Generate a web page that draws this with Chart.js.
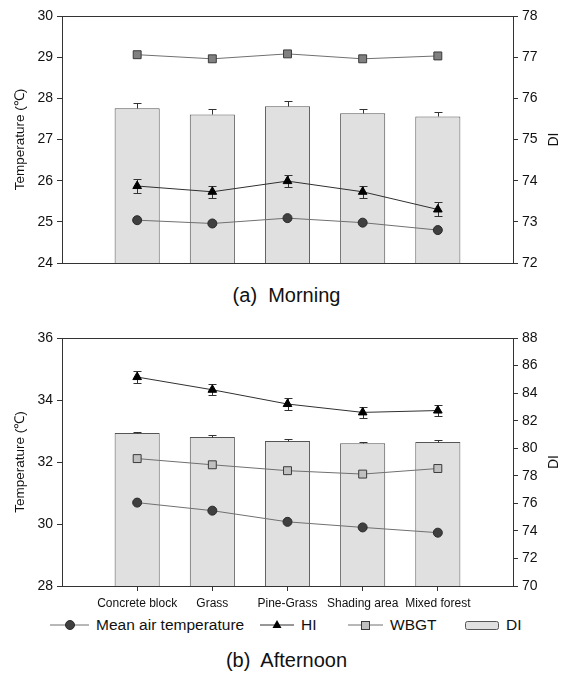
<!DOCTYPE html>
<html>
<head>
<meta charset="utf-8">
<script src="https://cdn.jsdelivr.net/npm/chart.js@4.4.0/dist/chart.umd.min.js"></script>
<style>
body { margin:0; background:#fff; width:573px; height:673px; position:relative; overflow:hidden;
       font-family:'Liberation Sans', Arial, sans-serif; color:#111; }
canvas { position:absolute; left:0; }
.cap { position:absolute; left:0; width:573px; text-align:center; font-size:20px; white-space:pre; line-height:24px; }
.leg { position:absolute; top:615px; height:20px; display:flex; align-items:center; font-size:15.5px; white-space:nowrap; }
.leg svg { margin-right:7px; }
</style>
</head>
<body>
<canvas id="am" width="573" height="280" style="top:0"></canvas>
<div class="cap" style="top:283px">(a)  Morning</div>
<canvas id="pm" width="573" height="305" style="top:310px"></canvas>
<div id="legend"></div>
<div class="cap" style="top:648px">(b)  Afternoon</div>
<script>
const categories = ['Concrete block', 'Grass', 'Pine-Grass', 'Shading area', 'Mixed forest'];
const seriesNames = ['Mean air temperature', 'HI', 'WBGT', 'DI'];
const tempTitle = 'Temperature (\u2103)';
const diTitle = 'DI';

// (a) Morning
const airAM   = [25.04, 24.96, 25.09, 24.98, 24.80];
const hiAM    = [25.87, 25.73, 25.99, 25.73, 25.30];
const hiErrAM = [0.16, 0.15, 0.15, 0.15, 0.17];
const wbgtAM  = [29.06, 28.96, 29.08, 28.96, 29.03];
const diAM    = [75.76, 75.61, 75.81, 75.64, 75.56];
const diErrAM = [0.12, 0.12, 0.13, 0.10, 0.12];

// (b) Afternoon
const airPM   = [30.69, 30.43, 30.07, 29.89, 29.72];
const hiPM    = [34.74, 34.33, 33.87, 33.60, 33.66];
const hiErrPM = [0.19, 0.18, 0.18, 0.17, 0.18];
const wbgtPM  = [32.11, 31.91, 31.72, 31.61, 31.79];
const diPM    = [81.11, 80.82, 80.53, 80.36, 80.46];
const diErrPM = [0.10, 0.14, 0.16, 0.12, 0.11];

Chart.defaults.font.family = "'Liberation Sans', Arial, sans-serif";
Chart.defaults.color = '#111';

// empty slot on each side so the five sites sit at 1/6 .. 5/6 of the width
const labels = ['', ...categories, ''];
const pad = a => [null, ...a, null];

function drawErr(chart, i, type) {
	const ds = chart.data.datasets[i];
	if (!ds.errors || ds.type !== type) return;
	const meta = chart.getDatasetMeta(i);
	const scale = chart.scales[meta.yAxisID];
	const ctx = chart.ctx;
	ctx.save();
	ctx.strokeStyle = '#333';
	ctx.lineWidth = 1;
	meta.data.forEach((el, j) => {
		const v = ds.data[j], e = ds.errors[j];
		if (v == null || e == null) return;
		const x = Math.round(el.x) + 0.5;
		const top = Math.round(scale.getPixelForValue(v + e)) + 0.5;
		const bot = Math.round(scale.getPixelForValue(type === 'bar' ? v : v - e)) + 0.5;
		ctx.beginPath();
		ctx.moveTo(x, top); ctx.lineTo(x, bot);
		ctx.moveTo(x - 4, top); ctx.lineTo(x + 4, top);
		if (type === 'line') { ctx.moveTo(x - 4, bot); ctx.lineTo(x + 4, bot); }
		ctx.stroke();
	});
	ctx.restore();
}

const errorBars = {
	id: 'errorBars',
	beforeDatasetDraw(chart, args) { drawErr(chart, args.index, 'line'); },
	afterDatasetDraw(chart, args) { drawErr(chart, args.index, 'bar'); }
};

// top edge of the box + right axis title reading upwards
const frame = {
	id: 'frame',
	afterDraw(chart) {
		const a = chart.chartArea, ctx = chart.ctx;
		ctx.save();
		ctx.strokeStyle = '#333';
		ctx.lineWidth = 1;
		ctx.beginPath();
		ctx.moveTo(Math.round(a.left), Math.round(a.top) + 0.5);
		ctx.lineTo(Math.round(a.right) + 1, Math.round(a.top) + 0.5);
		ctx.stroke();
		ctx.translate(chart.scales.y1.right - 19, (a.top + a.bottom) / 2);
		ctx.rotate(-Math.PI / 2);
		ctx.font = "14px 'Liberation Sans', Arial, sans-serif";
		ctx.fillStyle = '#111';
		ctx.textAlign = 'center';
		ctx.textBaseline = 'middle';
		ctx.fillText(diTitle, 0, 0);
		ctx.restore();
	}
};

function yAxis(min, max, step, position, title) {
	return {
		position: position,
		min: min, max: max,
		afterFit: s => { s.width = position === 'left' ? 62 : 60; },
		ticks: { stepSize: step, padding: 4, font: { size: 14 }, color: '#111' },
		grid: { drawOnChartArea: false, tickLength: 5, color: '#333' },
		border: { display: true, color: '#333' },
		title: title ? { display: true, text: title, font: { size: 13.5 }, padding: { top: 12 }, color: '#111' } : { display: false }
	};
}

function makeChart(id, d) {
	return new Chart(document.getElementById(id), {
		type: 'bar',
		data: {
			labels: labels,
			datasets: [
				{ type: 'line', label: seriesNames[0], data: pad(d.air), yAxisID: 'y', order: 1,
				  borderColor: '#707070', borderWidth: 1, pointStyle: 'circle', pointRadius: 4.5,
				  pointBackgroundColor: '#404040', pointBorderColor: '#2a2a2a', pointBorderWidth: 1 },
				{ type: 'line', label: seriesNames[1], data: pad(d.hi), errors: pad(d.hiErr), yAxisID: 'y', order: 1,
				  borderColor: '#303030', borderWidth: 1, pointStyle: 'triangle', pointRadius: 5,
				  pointBackgroundColor: '#000', pointBorderColor: '#000', pointBorderWidth: 1 },
				{ type: 'line', label: seriesNames[2], data: pad(d.wbgt), yAxisID: 'y', order: 1,
				  borderColor: '#707070', borderWidth: 1, pointStyle: 'rect', pointRadius: 5.6,
				  pointBackgroundColor: d.wbgtFill, pointBorderColor: '#3a3a3a', pointBorderWidth: 1 },
				{ type: 'bar', label: seriesNames[3], data: pad(d.di), errors: pad(d.diErr), yAxisID: 'y1', order: 10,
				  backgroundColor: '#e0e0e0', borderColor: '#555', borderWidth: 1,
				  barPercentage: 0.6, categoryPercentage: 1 }
			]
		},
		options: {
			responsive: false,
			animation: false,
			layout: { padding: { top: d.top, left: 0, right: 0, bottom: 0 } },
			plugins: { legend: { display: false }, tooltip: { enabled: false } },
			scales: {
				x: {
					offset: false,
					afterFit: s => { s.height = d.xHeight; },
					grid: { display: d.showX, offset: false, drawOnChartArea: false, tickLength: 5,
					        color: c => (c.index === 0 || c.index === labels.length - 1) ? 'rgba(0,0,0,0)' : '#333' },
					border: { display: true, color: '#333' },
					ticks: { display: d.showX, autoSkip: false, maxRotation: 0, padding: 5, font: { size: 12 }, color: '#111' }
				},
				y: yAxis(d.yMin, d.yMax, d.yStep, 'left', tempTitle),
				y1: yAxis(d.y1Min, d.y1Max, d.yStep, 'right', null)
			}
		},
		plugins: [errorBars, frame]
	});
}

makeChart('am', { air: airAM, hi: hiAM, hiErr: hiErrAM, wbgt: wbgtAM, di: diAM, diErr: diErrAM,
	wbgtFill: '#808080', yMin: 24, yMax: 30, y1Min: 72, y1Max: 78, yStep: 1,
	top: 16, xHeight: 17, showX: false });
makeChart('pm', { air: airPM, hi: hiPM, hiErr: hiErrPM, wbgt: wbgtPM, di: diPM, diErr: diErrPM,
	wbgtFill: '#c0c0c0', yMin: 28, yMax: 36, y1Min: 70, y1Max: 88, yStep: 2,
	top: 28, xHeight: 29, showX: true });

// legend for the afternoon panel
const icons = [
	'<line x1="0" y1="10" x2="39" y2="10" stroke="#707070"/><circle cx="20" cy="10" r="4.5" fill="#404040" stroke="#2a2a2a"/>',
	'<line x1="0" y1="10" x2="34" y2="10" stroke="#303030"/><polygon points="17,5 21.5,13 12.5,13" fill="#000"/>',
	'<line x1="0" y1="10" x2="35" y2="10" stroke="#707070"/><rect x="13.5" y="6.5" width="8" height="8" fill="#c0c0c0" stroke="#3a3a3a"/>',
	'<rect x="0.5" y="6.5" width="33" height="8" rx="2" fill="#e0e0e0" stroke="#555"/>'
];
const iconW = [39, 34, 35, 34];
const legLeft = [50, 260, 348, 465];
const lg = document.getElementById('legend');
seriesNames.forEach((name, i) => {
	const el = document.createElement('div');
	el.className = 'leg';
	el.style.left = legLeft[i] + 'px';
	el.innerHTML = '<svg width="' + iconW[i] + '" height="20">' + icons[i] + '</svg><span>' + name + '</span>';
	lg.appendChild(el);
});
</script>
</body>
</html>
